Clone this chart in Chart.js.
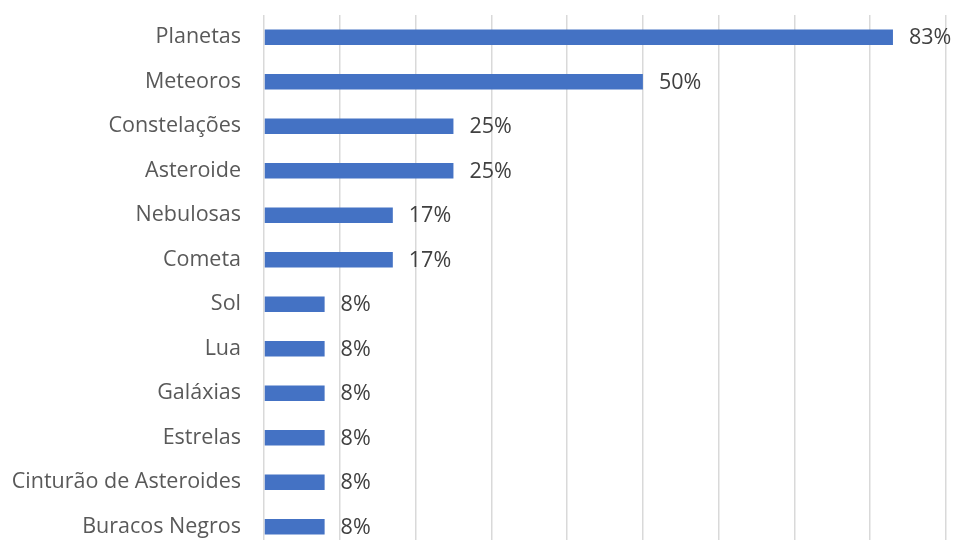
<!DOCTYPE html>
<html>
<head>
<meta charset="utf-8">
<script src="https://cdn.jsdelivr.net/npm/chart.js@4/dist/chart.umd.min.js"></script>
<style>
  html, body { margin: 0; padding: 0; background: #fff; overflow: hidden; }
  #wrap { width: 955px; height: 560px; }
</style>
</head>
<body>
<div id="wrap"><canvas id="chart"></canvas></div>
<script>
const categories = [
  'Planetas', 'Meteoros', 'Constelações', 'Asteroide', 'Nebulosas', 'Cometa',
  'Sol', 'Lua', 'Galáxias', 'Estrelas', 'Cinturão de Asteroides', 'Buracos Negros',
];
const values = [83, 50, 25, 25, 17, 17, 8, 8, 8, 8, 8, 8];
const axisMax = 90;
const axisStep = 10;

const FONT = '"Open Sans", "Noto Sans", sans-serif';

// value labels printed just right of each bar end
const barLabels = {
  id: 'barLabels',
  afterDatasetsDraw(chart) {
    const { ctx } = chart;
    const meta = chart.getDatasetMeta(0);
    ctx.save();
    ctx.font = `21.5px ${FONT}`;
    ctx.fillStyle = '#404040';
    ctx.textAlign = 'left';
    ctx.textBaseline = 'middle';
    meta.data.forEach((bar, i) => {
      ctx.fillText(values[i] + '%', bar.x + 16, bar.y + 1);
    });
    ctx.restore();
  },
};

new Chart(document.getElementById('chart'), {
  type: 'bar',
  data: {
    labels: categories,
    datasets: [{
      data: values,
      backgroundColor: '#4472C4',
      borderWidth: 0,
      categoryPercentage: 1,
      barPercentage: 0.35,
    }],
  },
  plugins: [barLabels],
  options: {
    indexAxis: 'y',
    responsive: true,
    maintainAspectRatio: false,
    animation: false,
    layout: { padding: { top: 15, right: 9, bottom: 11, left: 0 } },
    plugins: { legend: { display: false }, tooltip: { enabled: false } },
    scales: {
      x: {
        min: 0, max: axisMax,
        ticks: { display: false, stepSize: axisStep },
        grid: { color: '#d9d9d9', lineWidth: 1.5, drawTicks: false, tickLength: 0 },
        border: { display: false },
        afterFit: (s) => { s.height = 0; },
      },
      y: {
        ticks: { color: '#595959', font: { family: FONT, size: 21.5 }, padding: 23 },
        grid: { display: false, drawTicks: false, tickLength: 0 },
        border: { display: false },
        // fixed label column; drop the half-label padding so the plot fills the height
        afterFit: (s) => { s.width = 264; s.paddingTop = 0; s.paddingBottom = 0; },
      },
    },
  },
});
</script>
</body>
</html>
